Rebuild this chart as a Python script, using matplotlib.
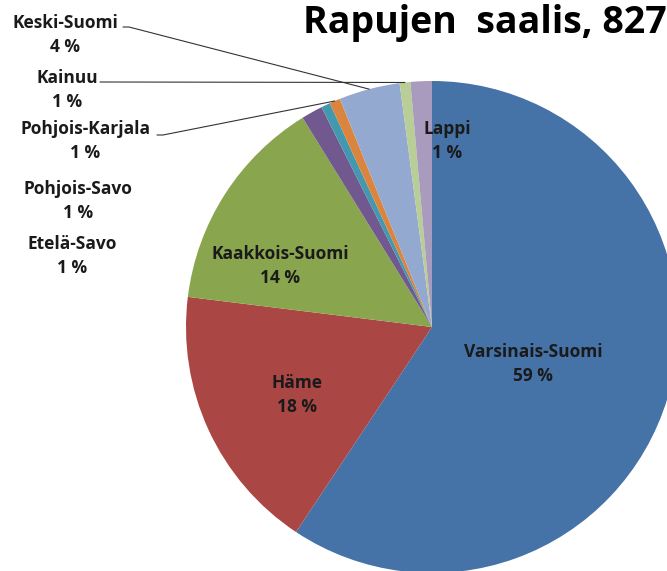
import matplotlib
matplotlib.use("Agg")
import matplotlib.pyplot as plt
import numpy as np

plt.rcParams['font.family'] = ['Open Sans', 'DejaVu Sans']

# share of catch by region (percent)
regions = ["Varsinais-Suomi", "Häme", "Kaakkois-Suomi", "Etelä-Savo", "Pohjois-Savo",
           "Pohjois-Karjala", "Keski-Suomi", "Kainuu", "Lappi"]
shares = [59.2, 17.6, 14.2, 1.4, 0.6, 0.7, 4.0, 0.7, 1.4]
pct_labels = ["59 %", "18 %", "14 %", "1 %", "1 %", "1 %", "4 %", "1 %", "1 %"]
colors = ["#4572A7", "#AA4643", "#89A54E", "#71588F", "#4198AF",
          "#DB843D", "#93A9CF", "#B9CD96", "#A99BBD"]

W, H = 667, 571
fig = plt.figure(figsize=(W / 100, H / 100), dpi=100)
fig.patch.set_facecolor("white")

# pie centre (432, 327) px, radius 246 px
cx, cy, r = 432, 327, 246
ax = fig.add_axes([(cx - r) / W, (H - cy - r) / H, 2 * r / W, 2 * r / H])
wedges, _ = ax.pie(shares, colors=colors, startangle=90, counterclock=False,
                   radius=1, wedgeprops=dict(linewidth=0))
ax.set_xlim(-1, 1)
ax.set_ylim(-1, 1)
ax.set_aspect("equal")
ax.axis("off")

lab_font = dict(fontsize=12.5, fontweight="bold", color="#1a1a1a",
                ha="center", va="center", linespacing=1.45)

# label centres in image pixels (x, y of the two-line block)
inside = {"Varsinais-Suomi": (533, 364), "Häme": (297, 395),
          "Kaakkois-Suomi": (280, 266), "Lappi": (447, 141)}
outside = {"Keski-Suomi": (65, 35), "Kainuu": (67, 90), "Pohjois-Karjala": (85, 141),
           "Pohjois-Savo": (78, 201), "Etelä-Savo": (72, 256)}
# where the leader lines leave the labels
leaders = {"Keski-Suomi": (123, 27), "Kainuu": (100, 82), "Pohjois-Karjala": (157, 135)}

for name, pct in zip(regions, pct_labels):
    pos = inside.get(name, outside.get(name))
    fig.text(pos[0] / W, 1 - pos[1] / H, name + "\n" + pct, **lab_font)

for w, name in zip(wedges, regions):
    if name not in leaders:
        continue
    ang = np.deg2rad((w.theta1 + w.theta2) / 2)
    lx, ly = leaders[name]
    ax.annotate("", xy=(np.cos(ang), np.sin(ang)), xycoords="data",
                xytext=(lx, H - ly), textcoords="figure pixels",
                arrowprops=dict(arrowstyle="-", color="#333333", lw=0.8,
                                shrinkA=0, shrinkB=0,
                                connectionstyle="arc,angleA=0,armA=6,angleB=0,armB=0,rad=0"),
                annotation_clip=False)

fig.text(303 / W, 1 - 33 / H, "Rapujen  saalis, 827", fontsize=27, fontweight="bold",
         ha="left", va="baseline", color="black")

fig.savefig("out.png", dpi=100)
